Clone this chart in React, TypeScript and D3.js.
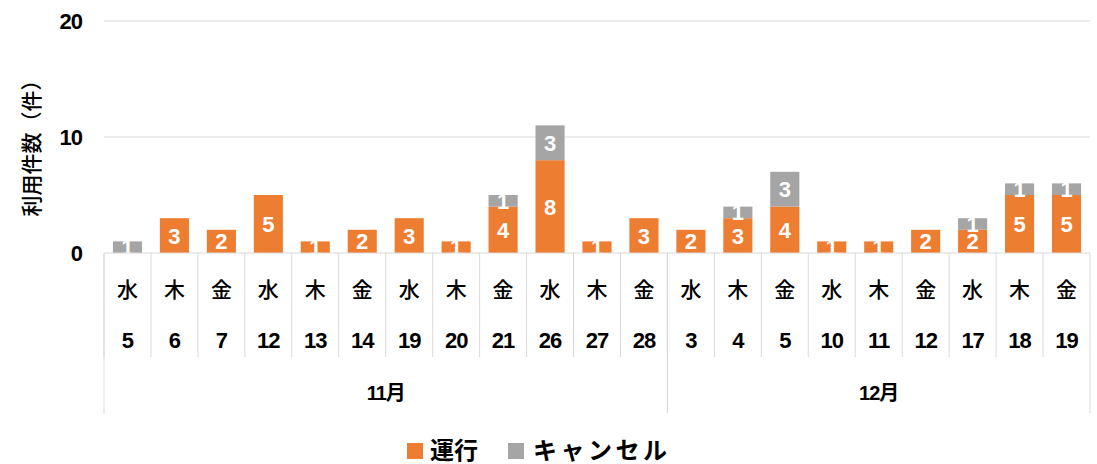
import React from "react";
import * as d3 from "d3";

const months = ["11月", "12月"];
const monthOf = [0,0,0,0,0,0,0,0,0,0,0,0,1,1,1,1,1,1,1,1,1];
const weekdays = ["水","木","金","水","木","金","水","木","金","水","木","金","水","木","金","水","木","金","水","木","金"];
const days = ["5","6","7","12","13","14","19","20","21","26","27","28","3","4","5","10","11","12","17","18","19"];
const operated = [0,3,2,5,1,2,3,1,4,8,1,3,2,3,4,1,1,2,2,5,5];
const cancelled = [1,0,0,0,0,0,0,0,1,3,0,0,0,1,3,0,0,0,1,1,1];
const yTicks = [0, 10, 20];

const W = 1097, H = 464;
const FONT = "'Liberation Sans', Arial, 'Noto Sans CJK JP', sans-serif";
const ORANGE = "#ED7D31";
const GRAY = "#A5A5A5";
const LINE = "#D9D9D9";

export default function App() {
  const left = 104, right = 1090, top = 21, bottom = 253;
  const idx = days.map((_, i) => i);
  const x = d3.scaleBand<number>().domain(idx).range([left, right]).paddingInner(0).paddingOuter(0);
  const y = d3.scaleLinear().domain([0, 20]).range([bottom, top]);
  const bw = x.bandwidth();
  const barW = bw * 0.62;
  const stack = d3.stack<number>().keys(["op", "ca"]).value((i, k) => (k === "op" ? operated[i] : cancelled[i]));
  const series = stack(idx);
  const colors = [ORANGE, GRAY];

  const monthRanges = months.map((m, mi) => {
    const ids = idx.filter((i) => monthOf[i] === mi);
    const x0 = x(ids[0])!;
    const x1 = x(ids[ids.length - 1])! + bw;
    return { m, x0, x1 };
  });

  return (
    <svg width={W} height={H} style={{ position: "absolute", left: 0, top: 0, background: "#fff" }} fontFamily={FONT}>
      {yTicks.filter((t) => t > 0).map((t) => (
        <line key={t} x1={left} x2={right} y1={y(t)} y2={y(t)} stroke={LINE} strokeWidth={1} />
      ))}
      {yTicks.map((t) => (
        <text key={t} x={82} y={y(t)} dy="0.35em" textAnchor="end" fontSize={22} fontWeight="bold" letterSpacing={-1} fill="#000">
          {t}
        </text>
      ))}
      <text transform={`translate(32,${(top + bottom) / 2 + 6}) rotate(-90)`} textAnchor="middle" dy="0.35em" fontSize={21} fontWeight="500" fill="#000">
        利用件数（件）
      </text>
      {series.map((s, si) => (
        <g key={si} fill={colors[si]}>
          {s.map((d, i) =>
            d[1] - d[0] > 0 ? (
              <rect key={i} x={x(i)! + (bw - barW) / 2} y={y(d[1])} width={barW} height={y(d[0]) - y(d[1])} />
            ) : null
          )}
        </g>
      ))}
      {series.map((s, si) => (
        <g key={"l" + si}>
          {s.map((d, i) =>
            d[1] - d[0] > 0 ? (
              <text key={i} x={x(i)! + bw / 2} y={(y(d[0]) + y(d[1])) / 2} dy="0.36em" textAnchor="middle" fontSize={22} fontWeight="bold" fill="#fff">
                {d[1] - d[0]}
              </text>
            ) : null
          )}
        </g>
      ))}
      <line x1={left} x2={right} y1={bottom} y2={bottom} stroke={LINE} strokeWidth={1} />
      {idx.map((i) => (
        <line key={"t" + i} x1={x(i)!} x2={x(i)!} y1={bottom} y2={357} stroke={LINE} strokeWidth={1} />
      ))}
      {monthRanges.map((r, k) => (
        <g key={"m" + k}>
          <line x1={r.x0} x2={r.x0} y1={bottom} y2={413} stroke={LINE} strokeWidth={1} />
          <line x1={r.x1} x2={r.x1} y1={bottom} y2={413} stroke={LINE} strokeWidth={1} />
          <text x={(r.x0 + r.x1) / 2} y={393} dy="0.35em" textAnchor="middle" fontSize={20} fontWeight="bold" letterSpacing={-1} fill="#000">
            {r.m}
          </text>
        </g>
      ))}
      {idx.map((i) => (
        <g key={"c" + i}>
          <text x={x(i)! + bw / 2} y={290} dy="0.35em" textAnchor="middle" fontSize={21} fontWeight="500" fill="#000">
            {weekdays[i]}
          </text>
          <text x={x(i)! + bw / 2} y={340} dy="0.35em" textAnchor="middle" fontSize={22} fontWeight="bold" letterSpacing={-1} fill="#000">
            {days[i]}
          </text>
        </g>
      ))}
      <rect x={407} y={443} width={16} height={16} fill={ORANGE} />
      <text x={430} y={451} dy="0.35em" fontSize={24} fontWeight="bold" fill="#000">運行</text>
      <rect x={508} y={443} width={16} height={16} fill={GRAY} />
      <text x={533} y={451} dy="0.35em" fontSize={24} fontWeight="bold" letterSpacing={3.5} fill="#000">キャンセル</text>
    </svg>
  );
}
